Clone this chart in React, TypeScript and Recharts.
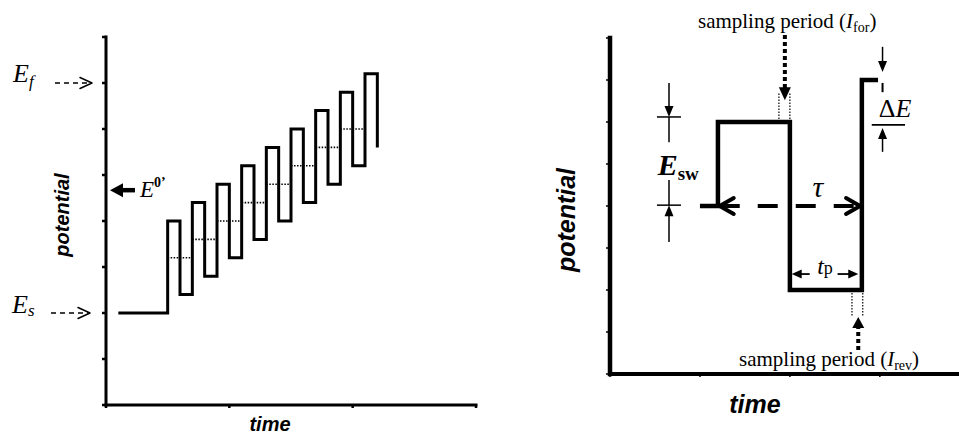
import React from "react";
import { LineChart, Line, XAxis, YAxis, ReferenceLine, ReferenceDot } from "recharts";

// ---- left panel: staircase (cyclic square-wave) potential program ----
const CV_TIME = [1, 5, 6, 7, 8, 9, 10, 11, 12, 13, 14, 15, 16, 17, 18, 19, 20, 21, 22];
const CV_POTENTIAL = [2, 4.0, 2.4, 4.4, 2.8, 4.8, 3.2, 5.2, 3.6, 5.6, 4.0, 6.0, 4.4, 6.4, 4.8, 6.8, 5.2, 7.2, 5.6];
const CV_MID_START = [5, 7, 9, 11, 13, 15, 17, 19];
const CV_MID_LEVEL = [3.2, 3.6, 4.0, 4.4, 4.8, 5.2, 5.6, 6.0];
const CV_TIME_TICKS = [0, 10, 20, 30];
const CV_LEVELS = { Es: 2, Ef: 7, E0: 4.67 };

// ---- right panel: one square-wave cycle ----
const SW_TIME = [1, 1.2, 2, 2.8, 2.98];
const SW_POTENTIAL = [4, 6, 2, 7, 7];
const SW_TIME_TICKS = [0, 1, 2, 3];

const POT_TICKS = [0, 1, 2, 3, 4, 5, 6, 7, 8];

const INK = "#000";
const SERIF = "'Liberation Serif', 'Times New Roman', serif";
const SANS = "'Liberation Sans', Arial, sans-serif";

const cvData = CV_TIME.map((t, i) => ({ t, v: CV_POTENTIAL[i] }));
const swData = SW_TIME.map((t, i) => ({ t, v: SW_POTENTIAL[i] }));

type ArrowOpts = {
  width?: number;
  dash?: string;
  head?: "filled" | "open" | "none";
  headLen?: number;
  headHalf?: number;
  headStroke?: number;
  both?: boolean;
};

function drawArrow(x1: number, y1: number, x2: number, y2: number, o: ArrowOpts = {}) {
  const w = o.width ?? 1.5;
  const hl = o.headLen ?? 10;
  const hw = o.headHalf ?? 4;
  const head = o.head ?? "filled";
  const len = Math.hypot(x2 - x1, y2 - y1) || 1;
  const ux = (x2 - x1) / len;
  const uy = (y2 - y1) / len;

  const tip = (tx: number, ty: number, dx: number, dy: number, key: string) => {
    const bx = tx - dx * hl;
    const by = ty - dy * hl;
    const pts = `${bx - dy * hw},${by + dx * hw} ${tx},${ty} ${bx + dy * hw},${by - dx * hw}`;
    if (head === "open") {
      return (
        <polyline key={key} points={pts} fill="none" stroke={INK}
          strokeWidth={o.headStroke ?? w} strokeLinejoin="round" strokeLinecap="round" />
      );
    }
    return <polygon key={key} points={pts} fill={INK} />;
  };

  const inset = head === "filled" ? hl * 0.6 : 0;
  const sx = o.both ? x1 + ux * inset : x1;
  const sy = o.both ? y1 + uy * inset : y1;
  const ex = x2 - ux * inset;
  const ey = y2 - uy * inset;

  return (
    <g>
      <line x1={sx} y1={sy} x2={ex} y2={ey} stroke={INK} strokeWidth={w} strokeDasharray={o.dash} />
      {head !== "none" && tip(x2, y2, ux, uy, "e")}
      {head !== "none" && o.both && tip(x1, y1, -ux, -uy, "s")}
    </g>
  );
}

const arrowShape = (o: ArrowOpts) => (p: any) => drawArrow(p.x1, p.y1, p.x2, p.y2, o);

// reference segment in data units, drawn as an arrow / plain stroke
function seg(key: string, a: [number, number], b: [number, number], o: ArrowOpts) {
  return (
    <ReferenceLine
      key={key}
      segment={[{ x: a[0], y: a[1] }, { x: b[0], y: b[1] }]}
      ifOverflow="visible"
      shape={arrowShape(o)}
    />
  );
}

function dotted(key: string, a: [number, number], b: [number, number], width = 1.2) {
  return (
    <ReferenceLine
      key={key}
      segment={[{ x: a[0], y: a[1] }, { x: b[0], y: b[1] }]}
      ifOverflow="visible"
      stroke={INK}
      strokeWidth={width}
      strokeDasharray="1.5 1.5"
    />
  );
}

function note(key: string, x: number, y: number, render: (cx: number, cy: number) => React.ReactElement) {
  return (
    <ReferenceDot key={key} x={x} y={y} r={0} ifOverflow="visible" shape={(p: any) => render(p.cx, p.cy)} />
  );
}

const yLabel = (dx: number, dy: number, size: number) => (props: any) => {
  const vb = props.viewBox || { x: 0, y: 0, width: 0, height: 0 };
  const cx = vb.x + vb.width + dx;
  const cy = vb.y + vb.height / 2 + dy;
  return (
    <text x={cx} y={cy} transform={`rotate(-90 ${cx} ${cy})`} textAnchor="middle" dominantBaseline="central"
      fontFamily={SANS} fontWeight={700} fontStyle="italic" fontSize={size} fill={INK}>
      potential
    </text>
  );
};

const xLabel = (dx: number, dy: number, size: number) => (props: any) => {
  const vb = props.viewBox || { x: 0, y: 0, width: 0, height: 0 };
  return (
    <text x={vb.x + dx} y={vb.y + dy} textAnchor="middle" fontFamily={SANS} fontWeight={700}
      fontStyle="italic" fontSize={size} fill={INK}>
      time
    </text>
  );
};

function StaircaseChart() {
  return (
    <LineChart width={480} height={435} data={cvData} margin={{ top: 37, right: 4, bottom: 29, left: 105 }}>
      <XAxis
        type="number"
        dataKey="t"
        domain={[0, 30]}
        allowDataOverflow
        ticks={CV_TIME_TICKS}
        height={1}
        tickSize={3}
        tickFormatter={() => ""}
        axisLine={{ stroke: INK, strokeWidth: 3, strokeLinecap: "square" }}
        tickLine={{ stroke: INK, strokeWidth: 2.5 }}
        label={xLabel(164, 26, 20)}
      />
      <YAxis
        type="number"
        domain={[0, 8]}
        allowDataOverflow
        ticks={POT_TICKS}
        width={1}
        tickSize={4}
        tickFormatter={() => ""}
        axisLine={{ stroke: INK, strokeWidth: 3, strokeLinecap: "square" }}
        tickLine={{ stroke: INK, strokeWidth: 2.5 }}
        label={yLabel(-44, -6, 20)}
      />

      {/* forward/reverse midpoints of each cycle */}
      {CV_MID_START.map((t, i) => dotted(`mid${i}`, [t, CV_MID_LEVEL[i]], [t + 2, CV_MID_LEVEL[i]], 1.6))}

      <Line
        type="stepAfter"
        dataKey="v"
        stroke={INK}
        strokeWidth={3}
        strokeLinejoin="miter"
        dot={false}
        isAnimationActive={false}
      />

      {note("ef", 0, CV_LEVELS.Ef, (cx, cy) => (
        <g>
          <text x={cx - 93} y={cy - 1} fontFamily={SERIF} fontStyle="italic" fontSize={26} fill={INK}>
            E<tspan fontSize={17} dy={5}>f</tspan>
          </text>
          {drawArrow(cx - 51, cy, cx - 14, cy, { width: 1.4, dash: "5 4", head: "open", headLen: 12, headHalf: 5.5, headStroke: 1.5 })}
        </g>
      ))}
      {note("es", 0, CV_LEVELS.Es, (cx, cy) => (
        <g>
          <text x={cx - 94} y={cy} fontFamily={SERIF} fontStyle="italic" fontSize={26} fill={INK}>
            E<tspan fontSize={17} dy={3}>s</tspan>
          </text>
          {drawArrow(cx - 55, cy, cx - 16, cy, { width: 1.4, dash: "5 4", head: "open", headLen: 12, headHalf: 5.5, headStroke: 1.5 })}
        </g>
      ))}
      {note("e0", 0, CV_LEVELS.E0, (cx, cy) => (
        <g>
          {drawArrow(cx + 29, cy, cx + 4, cy, { width: 4.5, head: "filled", headLen: 13, headHalf: 7 })}
          <text x={cx + 34} y={cy + 7} fontFamily={SERIF} fontStyle="italic" fontSize={23} fill={INK}>
            E<tspan fontSize={14} fontWeight={700} fontStyle="normal" dy={-10}>0’</tspan>
          </text>
        </g>
      ))}
    </LineChart>
  );
}

function SquareWaveChart() {
  const thin: ArrowOpts = { width: 1.5, head: "filled", headLen: 11, headHalf: 4.5 };
  const plain: ArrowOpts = { width: 1.5, head: "none" };
  return (
    <LineChart width={479} height={435} data={swData} margin={{ top: 38, right: 0, bottom: 60, left: 129 }}>
      <XAxis
        type="number"
        dataKey="t"
        domain={[0, 3.88]}
        allowDataOverflow
        ticks={SW_TIME_TICKS}
        height={1}
        tickSize={3}
        tickFormatter={() => ""}
        axisLine={{ stroke: INK, strokeWidth: 4, strokeLinecap: "square" }}
        tickLine={{ stroke: INK, strokeWidth: 1.5 }}
        label={xLabel(145, 39, 25)}
      />
      <YAxis
        type="number"
        domain={[0, 8]}
        allowDataOverflow
        ticks={POT_TICKS}
        width={1}
        tickSize={4}
        tickFormatter={() => ""}
        axisLine={{ stroke: INK, strokeWidth: 4.5, strokeLinecap: "square" }}
        tickLine={{ stroke: INK, strokeWidth: 1.5 }}
        label={yLabel(-44, 14, 25)}
      />

      {/* sampling windows */}
      {dotted("sf1", [1.878, 6.0], [1.878, 6.71])}
      {dotted("sf2", [2.0, 6.0], [2.0, 6.71])}
      {dotted("sr1", [2.69, 2.0], [2.69, 1.36])}
      {dotted("sr2", [2.81, 2.0], [2.81, 1.36])}

      <Line
        type="stepAfter"
        dataKey="v"
        stroke={INK}
        strokeWidth={4.5}
        strokeLinejoin="miter"
        dot={false}
        isAnimationActive={false}
      />

      {seg("sfa", [1.944, 8.07], [1.944, 6.52], { width: 4, dash: "4 3", head: "filled", headLen: 13, headHalf: 6 })}
      {seg("sra", [2.76, 0.57], [2.76, 1.36], { width: 4, dash: "4 3", head: "filled", headLen: 11, headHalf: 6 })}

      {note("sft", 1.97, 8.24, (cx, cy) => (
        <text x={cx} y={cy} textAnchor="middle" fontFamily={SERIF} fontSize={21} fill={INK}>
          sampling period (<tspan fontStyle="italic">I</tspan>
          <tspan fontSize={14} dy={4}>for</tspan>
          <tspan dy={-4}>)</tspan>
        </text>
      ))}
      {note("srt", 2.435, 0.19, (cx, cy) => (
        <text x={cx} y={cy} textAnchor="middle" fontFamily={SERIF} fontSize={21} fill={INK}>
          sampling period (<tspan fontStyle="italic">I</tspan>
          <tspan fontSize={14} dy={4}>rev</tspan>
          <tspan dy={-4}>)</tspan>
        </text>
      ))}

      {/* E_sw dimension */}
      {seg("esw1", [0.656, 6.93], [0.656, 6.12], thin)}
      {seg("esw2", [0.656, 6.12], [0.656, 5.52], plain)}
      {seg("esw3", [0.522, 6.12], [0.789, 6.12], plain)}
      {seg("esw4", [0.656, 4.62], [0.656, 4.02], plain)}
      {seg("esw5", [0.522, 4.02], [0.789, 4.02], plain)}
      {seg("esw6", [0.656, 3.14], [0.656, 4.02], thin)}
      {note("eswt", 0.53, 4.74, (cx, cy) => (
        <text x={cx} y={cy} fontFamily={SERIF} fontStyle="italic" fontWeight={700} fontSize={30} fill={INK}>
          E<tspan fontSize={19} fontStyle="normal" dy={5}>sw</tspan>
        </text>
      ))}

      {/* tau: period */}
      {seg("tau", [1.22, 4.0], [2.78, 4.0], { width: 4, dash: "20 18", head: "open", headLen: 14, headHalf: 8, headStroke: 4, both: true })}
      {note("taut", 2.31, 4.21, (cx, cy) => (
        <text x={cx} y={cy} textAnchor="middle" fontFamily={SERIF} fontStyle="italic" fontSize={30} fill={INK}>
          τ
        </text>
      ))}

      {/* t_p: pulse width */}
      {seg("tp1", [2.22, 2.38], [2.02, 2.38], { width: 1.8, head: "filled", headLen: 10, headHalf: 4.5 })}
      {seg("tp2", [2.53, 2.38], [2.76, 2.38], { width: 1.8, head: "filled", headLen: 10, headHalf: 4.5 })}
      {note("tpt", 2.39, 2.38, (cx, cy) => (
        <text x={cx} y={cy} textAnchor="middle" fontFamily={SERIF} fontSize={24} fill={INK}>
          <tspan fontStyle="italic">t</tspan>
          <tspan fontSize={18}>p</tspan>
        </text>
      ))}

      {/* Delta E: step height */}
      {seg("de1", [3.03, 7.79], [3.03, 7.19], thin)}
      {seg("de2", [3.03, 6.93], [3.03, 6.71], { width: 2, head: "none" })}
      {seg("de3", [2.91, 5.93], [3.28, 5.93], { width: 1.8, head: "none" })}
      {seg("de4", [3.03, 5.29], [3.03, 5.86], thin)}
      {note("det", 3.17, 6.12, (cx, cy) => (
        <text x={cx} y={cy} textAnchor="middle" fontFamily={SERIF} fontSize={26} fill={INK}>
          Δ<tspan fontStyle="italic">E</tspan>
        </text>
      ))}
    </LineChart>
  );
}

export default function App() {
  return (
    <div style={{ position: "absolute", left: 0, top: 0, width: 959, height: 435, background: "#fff", overflow: "hidden" }}>
      <div style={{ position: "absolute", left: 0, top: 0 }}>
        <StaircaseChart />
      </div>
      <div style={{ position: "absolute", left: 480, top: 0 }}>
        <SquareWaveChart />
      </div>
    </div>
  );
}
